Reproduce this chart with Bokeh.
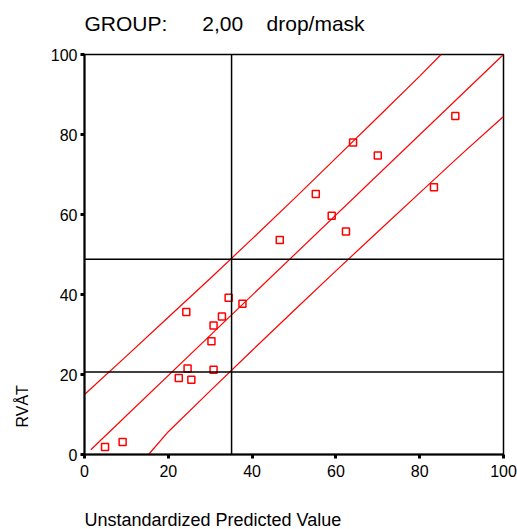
from bokeh.plotting import figure
from bokeh.models import Range1d, Span, Title, FixedTicker
from bokeh.embed import file_html
from bokeh.resources import INLINE

# Scatter data (Unstandardized Predicted Value vs RVÅT)
pred_x = [4.9, 9.1, 22.5, 24.6, 25.5, 24.3, 30.8, 30.3, 30.8, 32.8,
          34.4, 37.7, 46.6, 55.2, 59.0, 62.4, 64.1, 70.0, 83.4, 88.5]
rvat_y = [1.9, 3.1, 19.1, 21.5, 18.7, 35.6, 21.2, 28.3, 32.25, 34.5,
          39.2, 37.7, 53.6, 65.1, 59.7, 55.75, 78.0, 74.75, 66.8, 84.6]

# Fit line
fit_x = [1.5, 100.0]
fit_y = [1.2, 100.0]

# Upper prediction band
upper_x = [0, 10, 20, 30, 40, 50, 60, 70, 80, 85.1]
upper_y = [15.0, 24.6, 34.3, 44.0, 53.9, 63.9, 74.1, 84.3, 94.6, 100.0]

# Lower prediction band
lower_x = [15.3, 20, 30, 40, 50, 60, 70, 80, 90, 100]
lower_y = [0.0, 5.7, 15.9, 26.0, 36.0, 45.9, 55.7, 65.4, 75.1, 84.5]

# Reference lines
ref_x = [35.1]
ref_y = [48.8, 20.6]

ticks = [0, 20, 40, 60, 80, 100]

NB = "\u00a0"
title_text = "GROUP:" + NB * 6 + "2,00" + NB * 4 + "drop/mask"
x_label = "Unstandardized Predicted Value"
y_label = "RVÅT"

FONT = "Liberation Sans"

p = figure(width=517, height=529, output_backend="svg", toolbar_location=None,
           x_range=Range1d(0, 100), y_range=Range1d(0, 100),
           min_border_left=84, min_border_right=14, min_border_top=54,
           min_border_bottom=75, title=None)
p.background_fill_color = "white"
p.border_fill_color = "white"
p.outline_line_color = "black"
p.outline_line_width = 1.5
p.grid.visible = False

for ax in (p.xaxis[0], p.yaxis[0]):
    ax.ticker = FixedTicker(ticks=ticks)
    ax.axis_line_width = 2
    ax.axis_line_color = "black"
    ax.major_tick_line_width = 3
    ax.major_tick_line_color = "black"
    ax.major_tick_out = 4
    ax.major_tick_in = 0
    ax.minor_tick_out = 0
    ax.minor_tick_in = 0
    ax.major_label_text_font = FONT
    ax.major_label_text_font_size = "16px"
    ax.major_label_text_color = "black"
p.xaxis[0].major_label_standoff = 6
p.yaxis[0].major_label_standoff = 3

for xv in ref_x:
    p.add_layout(Span(location=xv, dimension="height", line_color="black", line_width=1.5))
for yv in ref_y:
    p.add_layout(Span(location=yv, dimension="width", line_color="black", line_width=1.5))

p.line(fit_x, fit_y, line_color="red", line_width=1.2)
p.line(upper_x, upper_y, line_color="red", line_width=1.2)
p.line(lower_x, lower_y, line_color="red", line_width=1.2)

p.scatter(pred_x, rvat_y, marker="square", size=7, fill_color=None,
          line_color="red", line_width=1.5)


def spacer(px):
    return Title(text=" ", standoff=px, text_font_size="1px")


def label(text, size, offset):
    return Title(text=text, align="left", offset=offset, standoff=0,
                 text_font=FONT, text_font_size=size,
                 text_font_style="normal", text_color="black")


p.add_layout(spacer(17), "above")
p.add_layout(label(title_text, "21px", 0), "above")

p.add_layout(spacer(25), "below")
p.add_layout(label(x_label, "18px", 0), "below")

p.add_layout(spacer(14), "left")
p.add_layout(label(y_label, "16px", 27), "left")

open("out.html", "w").write(file_html(p, INLINE))
